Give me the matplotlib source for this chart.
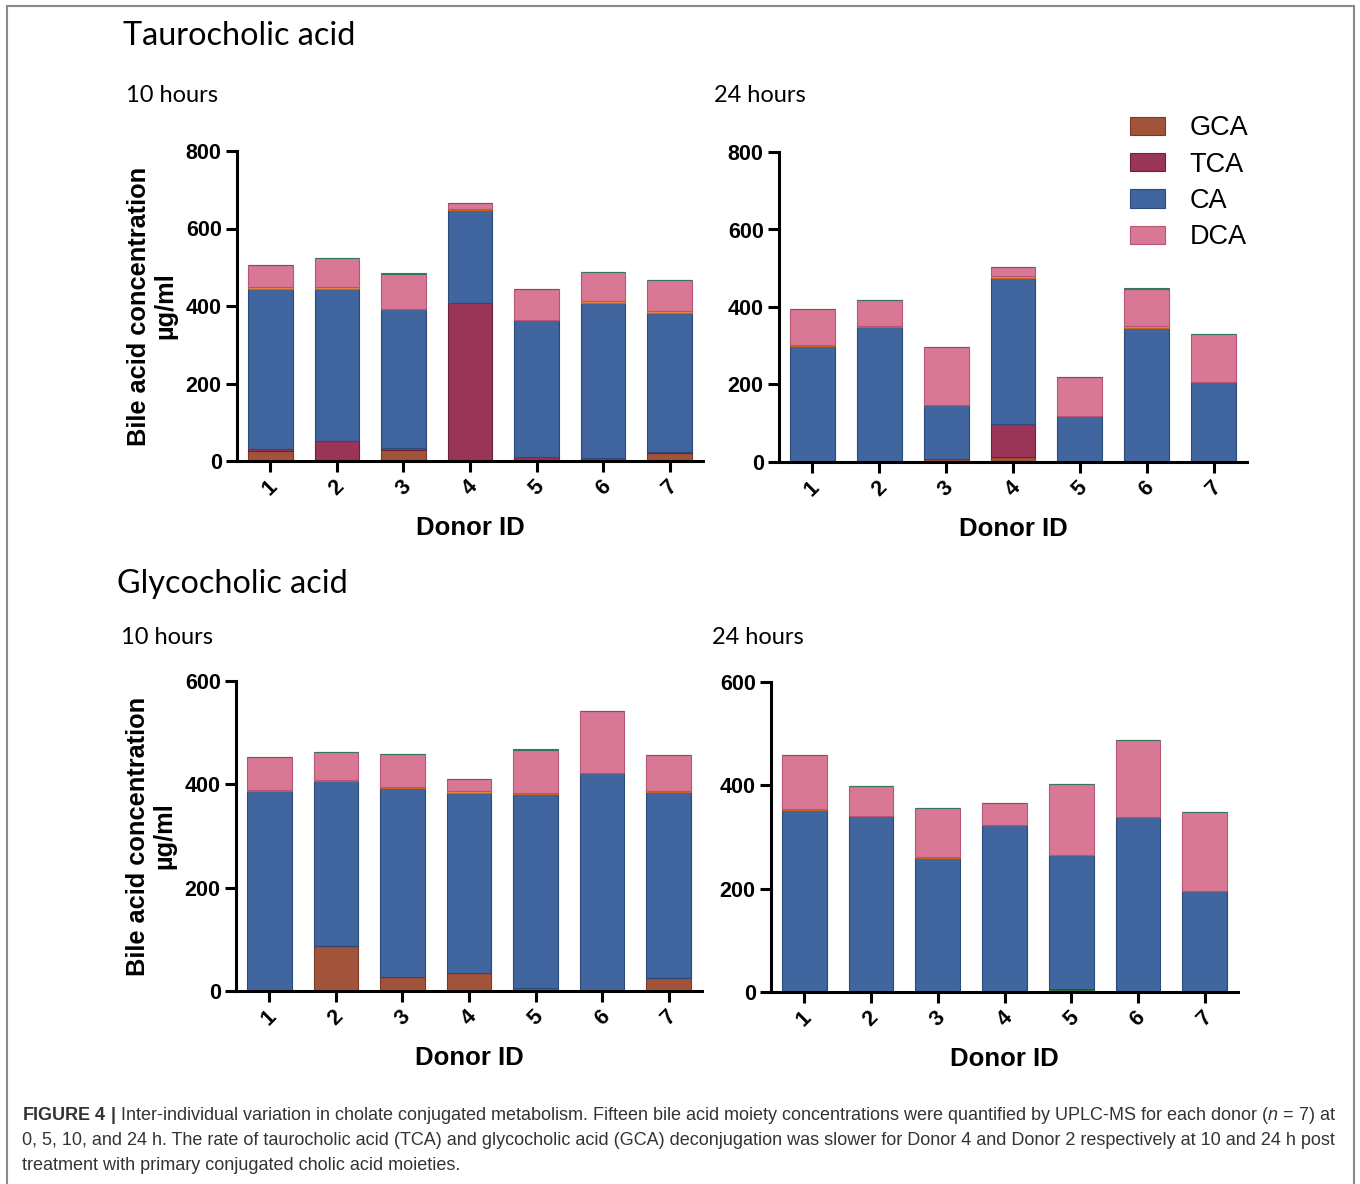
import numpy as np
import matplotlib
matplotlib.use("Agg")
import matplotlib.pyplot as plt
from matplotlib.patches import Rectangle

plt.rcParams['font.family'] = ['Liberation Sans', 'DejaVu Sans']
plt.rcParams['mathtext.fontset'] = 'custom'
plt.rcParams['mathtext.rm'] = 'Liberation Sans'
plt.rcParams['mathtext.it'] = 'Liberation Sans:italic'
plt.rcParams['mathtext.bf'] = 'Liberation Sans:bold'

donors = ['1', '2', '3', '4', '5', '6', '7']

# Taurocholic acid, 10 hours (ug/ml, stacked from bottom)
tca10_gca = [25, 2, 28, 2, 3, 2, 20]
tca10_tca = [5, 50, 5, 405, 7, 6, 3]
tca10_ca = [415, 393, 359, 240, 354, 399, 360]
tca10_other = [5, 3, 1, 3, 1, 7, 5]
tca10_dca = [57, 77, 89, 17, 78, 74, 79]
tca10_minor = [0, 0, 3, 0, 2, 0, 1]

# Taurocholic acid, 24 hours
tca24_gca = [0, 0, 7, 12, 0, 0, 0]
tca24_tca = [0, 0, 1, 86, 0, 0, 0]
tca24_ca = [299, 349, 139, 376, 119, 347, 206]
tca24_other = [2, 1, 0, 5, 0, 3, 0]
tca24_dca = [94, 68, 151, 25, 100, 97, 124]
tca24_minor = [0, 0, 0, 0, 0, 1, 0]

# Glycocholic acid, 10 hours
gca10_gca = [0, 88, 27, 34, 6, 0, 25]
gca10_tca = [0, 0, 0, 0, 0, 0, 0]
gca10_ca = [388, 318, 365, 350, 375, 421, 361]
gca10_other = [1, 2, 2, 4, 2, 0, 2]
gca10_dca = [64, 55, 65, 22, 83, 121, 68]
gca10_minor = [0, 0, 0, 1, 2, 0, 0]

# Glycocholic acid, 24 hours
gca24_green = [0, 0, 0, 0, 6, 0, 0]
gca24_gca = [0, 0, 0, 0, 0, 0, 0]
gca24_tca = [0, 0, 0, 0, 0, 0, 0]
gca24_ca = [352, 341, 260, 324, 259, 339, 195]
gca24_other = [2, 0, 2, 0, 0, 0, 0]
gca24_dca = [105, 58, 95, 42, 137, 149, 154]
gca24_minor = [0, 0, 0, 0, 1, 0, 0]

colors = {'green': ('#2f7d32', '#1f5a22'), 'GCA': ('#a1543a', '#7a3a25'),
          'TCA': ('#9b3558', '#6e2038'), 'CA': ('#40659f', '#2c4a78'),
          'other': ('#f08a3c', '#c8641e'), 'DCA': ('#d87895', '#b85576'),
          'minor': ('#4d9f8c', '#357563')}

W, H = 1360, 1184
fig = plt.figure(figsize=(W / 100, H / 100), dpi=100)


def px_axes(x0, y0, x1, y1):
    return fig.add_axes([x0 / W, 1 - y1 / H, (x1 - x0) / W, (y1 - y0) / H])


def stacked(ax, series, ymax, step):
    x = np.arange(1, len(donors) + 1)
    bottom = np.zeros(len(donors))
    for name, vals in series:
        vals = np.array(vals, dtype=float)
        fc, ec = colors[name]
        lab = name if name in ('GCA', 'TCA', 'CA', 'DCA') else '_nolegend_'
        ax.bar(x, vals, 0.67, bottom=bottom, color=fc, edgecolor=ec,
               linewidth=0.8, label=lab, zorder=2)
        bottom += vals
    ax.set_xlim(0.5, 7.5)
    ax.set_ylim(0, ymax)
    ax.set_yticks(np.arange(0, ymax + 1, step))
    ax.set_xticks(x)
    ax.set_xticklabels(donors, rotation=45, ha='center', va='top')
    for s in ('top', 'right'):
        ax.spines[s].set_visible(False)
    for s in ('left', 'bottom'):
        ax.spines[s].set_linewidth(2.2)
    ax.tick_params(axis='both', width=2.2, length=8, labelsize=15.5, pad=3)
    for lbl in ax.get_xticklabels() + ax.get_yticklabels():
        lbl.set_fontweight('bold')
    ax.set_xlabel('Donor ID', fontsize=18.5, fontweight='bold', labelpad=12)


ax1 = px_axes(237, 151, 703, 461)
stacked(ax1, [('GCA', tca10_gca), ('TCA', tca10_tca), ('CA', tca10_ca),
              ('other', tca10_other), ('DCA', tca10_dca), ('minor', tca10_minor)], 800, 200)
ax2 = px_axes(779, 152, 1247, 462)
stacked(ax2, [('GCA', tca24_gca), ('TCA', tca24_tca), ('CA', tca24_ca),
              ('other', tca24_other), ('DCA', tca24_dca), ('minor', tca24_minor)], 800, 200)
ax3 = px_axes(236, 681, 702, 991)
stacked(ax3, [('GCA', gca10_gca), ('TCA', gca10_tca), ('CA', gca10_ca),
              ('other', gca10_other), ('DCA', gca10_dca), ('minor', gca10_minor)], 600, 200)
ax4 = px_axes(771, 682, 1238, 992)
stacked(ax4, [('green', gca24_green), ('GCA', gca24_gca), ('TCA', gca24_tca), ('CA', gca24_ca),
              ('other', gca24_other), ('DCA', gca24_dca), ('minor', gca24_minor)], 600, 200)

for ax in (ax1, ax3):
    ax.set_ylabel('Bile acid concentration\nµg/ml', fontsize=18.3, fontweight='bold',
                  labelpad=6, linespacing=1.15)

# panel titles
tfont = ['Lato', 'DejaVu Sans']
fig.text(123 / W, 1 - 36 / H, 'Taurocholic acid', fontsize=23.3, family=tfont, va='center')
fig.text(117 / W, 1 - 584 / H, 'Glycocholic acid', fontsize=23.3, family=tfont, va='center')
fig.text(126 / W, 1 - 95 / H, '10 hours', fontsize=17, family=tfont, va='center')
fig.text(714 / W, 1 - 95 / H, '24 hours', fontsize=17, family=tfont, va='center')
fig.text(121 / W, 1 - 638 / H, '10 hours', fontsize=17, family=tfont, va='center')
fig.text(712 / W, 1 - 638 / H, '24 hours', fontsize=17, family=tfont, va='center')

handles, labels = ax1.get_legend_handles_labels()
fig.legend(handles, labels, loc='upper left', bbox_to_anchor=(1106 / W, 1 - 91 / H),
           frameon=False, fontsize=19.5, handlelength=1.26, handleheight=0.67,
           handletextpad=0.93, labelspacing=0.38)

# caption
cap = [r'$\mathbf{FIGURE\ 4\ |}$ Inter-individual variation in cholate conjugated metabolism. '
       r'Fifteen bile acid moiety concentrations were quantified by UPLC-MS for each donor '
       r'($\mathit{n}$ = 7) at',
       '0, 5, 10, and 24 h. The rate of taurocholic acid (TCA) and glycocholic acid (GCA) '
       'deconjugation was slower for Donor 4 and Donor 2 respectively at 10 and 24 h post',
       'treatment with primary conjugated cholic acid moieties.']
for i, line in enumerate(cap):
    fig.text(22 / W, 1 - (1115 + 25.5 * i) / H, line, fontsize=12.95, color='#333333',
             va='center', ha='left')

fig.patches.append(Rectangle((7 / W, -0.01), (1354 - 7) / W, 1.01 - 6 / H,
                             transform=fig.transFigure, fill=False,
                             edgecolor='#8a8a8a', linewidth=1.5))

fig.savefig('out.png', dpi=100)
